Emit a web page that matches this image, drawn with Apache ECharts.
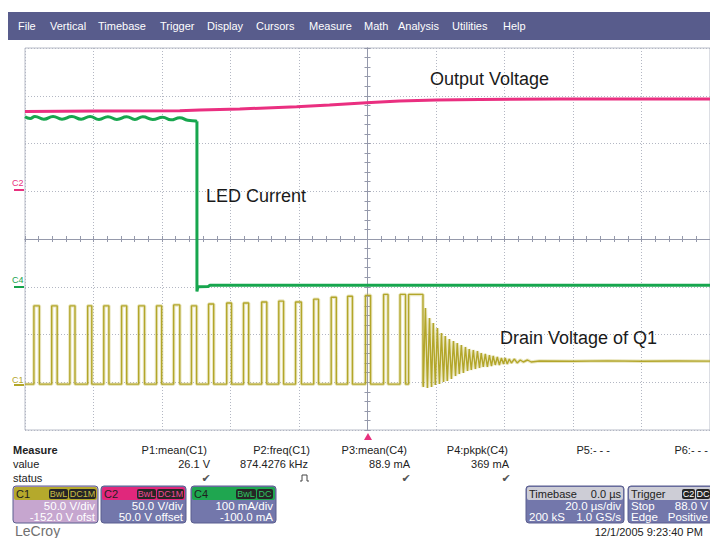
<!DOCTYPE html>
<html>
<head>
<meta charset="utf-8">
<title>LeCroy capture</title>
<script src="https://cdn.jsdelivr.net/npm/echarts@6/dist/echarts.min.js"></script>
<style>
  html, body { margin: 0; padding: 0; background: #fff; }
  #chart { width: 710px; height: 538px; }
</style>
</head>
<body>
<div id="chart"></div>
<script>
// time in µs (20 µs/div, trigger at 0)
// C1 drain voltage (V): pulse edges and pulse tops
const pulseRise = [-97.4, -92.2, -86.9, -81.7, -77.0, -71.8, -66.8, -61.6, -56.6, -51.4, -46.4, -41.1,
  -36.2, -30.9, -25.9, -21.0, -15.7, -10.6, -5.8, -0.6, 4.7, 9.5, 12.0];
const pulseFall = [-95.8, -90.6, -85.4, -80.5, -75.5, -70.3, -65.1, -60.1, -54.8, -49.9, -44.9, -39.7,
  -34.7, -29.4, -24.5, -19.3, -14.3, -9.1, -4.4, 0.9, 6.0, 11.1, 16.2];
const pulseHigh = [82, 82, 82, 82, 82, 82, 82, 82, 83, 82, 84, 85, 85, 86, 87, 86, 89, 91, 92, 93, 94, 94, 94];
// ringing after the last pulse
const ringTime = [16.3, 16.9, 17.5, 18.1, 18.7, 19.2, 19.8, 20.4, 21.0, 21.6, 22.2, 22.7, 23.3, 23.9, 24.5,
  25.1, 25.7, 26.2, 26.8, 27.4, 28.0, 28.6, 29.2, 29.7, 30.3, 30.9, 31.5, 32.1, 32.7, 33.2, 33.8, 34.4, 35.0,
  35.6, 36.2, 36.7, 37.3, 37.9, 38.5, 39.1, 39.7, 40.2, 40.8, 41.4, 42.0, 42.9, 43.7, 44.6, 45.5, 46.7, 47.8, 50.2];
const ringVolt = [-3.0, 79.7, -4.0, 69.3, -3.0, 64.0, -0.9, 58.8, 0.2, 53.6, 2.3, 50.4, 3.3, 47.3, 5.4,
  45.2, 8.5, 43.1, 10.6, 41.0, 11.7, 38.9, 13.8, 36.8, 14.8, 35.8, 15.9, 34.7, 16.9, 32.6, 18.0, 31.6, 18.0,
  30.5, 19.0, 29.5, 20.1, 28.4, 20.1, 27.4, 21.1, 27.4, 21.1, 26.3, 22.2, 26.3, 22.2, 25.3, 23.2, 25.3, 23.2, 24.3];
const tailTime = [60, 70, 80, 90, 100];
const tailVolt = [24.0, 24.4, 24.0, 24.3, 24.1];

// C2 output voltage (V)
const outTime = [-100, -78.7, -54.8, -49.0, -37.3, -20.7, -11.1, -0.3, 9.3, 20.1, 32.7, 56.0, 100];
const outVolt = [83.5, 84.0, 84.3, 85.1, 86.1, 88.5, 90.3, 92.7, 94.5, 95.5, 96.1, 96.6, 96.6];

// C4 LED current (mA): ripple part, then the step down
const ledTime = [-100, -98.5, -97.1, -94.5, -91.8, -89.2, -86.3, -83.6, -81.0, -78.4, -75.8, -73.2, -70.3,
  -67.9, -65.6, -62.7, -59.8, -57.4, -54.8, -52.5, -50.1, -49.8];
const ledCurrent = [356.0, 352.5, 356.5, 351.0, 356.5, 351.0, 356.5, 351.0, 356.5, 350.5, 356.0, 350.5, 356.0,
  350.5, 356.0, 350.5, 355.0, 349.5, 354.0, 348.5, 347.0, 346.5];
const ledOffTime = [-49.8, -49.8, -49.5, -46.5, -46.0, 100];
const ledOffCurrent = [346.5, -10, 0, 0.5, 3, 3];

// channel settings shown on the scope (per div, offset)
const c1Set = { perDiv: 50, offset: -152 };
const c2Set = { perDiv: 50, offset: 50 };
const c4Set = { perDiv: 100, offset: -100 };

const toDiv = (set, v) => (v + set.offset) / set.perDiv;

// build traces
const c1 = [[-100, toDiv(c1Set, 0)]];
pulseRise.forEach((t, i) => {
  const hi = toDiv(c1Set, pulseHigh[i]);
  const lo = toDiv(c1Set, 0);
  c1.push([t, lo], [t, hi], [pulseFall[i], hi], [pulseFall[i], lo]);
});
ringTime.forEach((t, i) => c1.push([t, toDiv(c1Set, ringVolt[i])]));
tailTime.forEach((t, i) => c1.push([t, toDiv(c1Set, tailVolt[i])]));

const c2 = outTime.map((t, i) => [t, toDiv(c2Set, outVolt[i])]);
const c4on = ledTime.map((t, i) => [t, toDiv(c4Set, ledCurrent[i])]);
const c4off = ledOffTime.map((t, i) => [t, toDiv(c4Set, ledOffCurrent[i])]);

const FONT = '"Liberation Sans", Arial, sans-serif';
const gridColor = '#b3b7c3';
const centerColor = '#9599ab';

function txt(x, y, s, o) {
  o = o || {};
  return {
    type: 'text', x: x, y: y, z: 100, silent: true,
    style: {
      text: s,
      fill: o.fill || '#222',
      fontSize: o.size || 11,
      fontWeight: o.weight || 'normal',
      fontFamily: o.family || FONT,
      align: o.align || 'left', textAlign: o.align || 'left',
      verticalAlign: 'middle', textVerticalAlign: 'middle'
    }
  };
}
function box(x, y, w, h, fill, r, stroke) {
  return {
    type: 'rect', z: 90, silent: true,
    shape: { x: x, y: y, width: w, height: h, r: r || 0 },
    style: { fill: fill, stroke: stroke || null, lineWidth: stroke ? 1 : 0 }
  };
}
function badge(x0, x1, s, color) {
  return [box(x0, 489, x1 - x0, 10, '#262626', 2), txt((x0 + x1) / 2, 494, s, { fill: color, size: 9, align: 'center' })];
}
function chanBox(x, w, head, body, label, badges, badgeColor, l1, l2) {
  let els = [
    box(x, 486, w, 37, body, 3, '#5b5f8f'),
    box(x + 1, 487, w - 2, 13, head, 2),
    txt(x + 3, 493.5, label, { fill: '#1e1e1e' }),
    txt(x + w - 3, 505.5, l1, { fill: '#fff', size: 11.5, align: 'right' }),
    txt(x + w - 3, 516.5, l2, { fill: '#fff', size: 11.5, align: 'right' })
  ];
  badges.forEach(b => { els = els.concat(badge(b[0], b[1], b[2], badgeColor)); });
  return els;
}

const menu = [['File', 18], ['Vertical', 50], ['Timebase', 98], ['Trigger', 160], ['Display', 207],
  ['Cursors', 256], ['Measure', 309], ['Math', 364], ['Analysis', 398], ['Utilities', 452], ['Help', 503]];

let graphics = [box(8, 12, 702, 28, '#585c8c')];
menu.forEach(m => graphics.push(txt(m[1], 26, m[0], { fill: '#fff' })));

// annotations
graphics.push(
  txt(430, 79, 'Output Voltage', { size: 18, fill: '#1a1a1a' }),
  txt(206, 196, 'LED Current', { size: 18, fill: '#1a1a1a' }),
  txt(500, 338, 'Drain Voltage of Q1', { size: 18, fill: '#1a1a1a' })
);

// channel markers on the left edge
[['C2', 183, 190, '#e8307e'], ['C4', 280, 287, '#16a34c'], ['C1', 380, 385, '#b3a62a']].forEach(c => {
  graphics.push(txt(12, c[1], c[0], { fill: c[3], size: 9 }));
  graphics.push({ type: 'line', z: 100, silent: true, shape: { x1: 14, y1: c[2], x2: 24, y2: c[2] }, style: { stroke: c[3], lineWidth: 2 } });
});
// trigger position marker
graphics.push({ type: 'polygon', z: 100, silent: true, shape: { points: [[364, 440], [372, 440], [368, 433]] }, style: { fill: '#e8307e' } });

// measure table
graphics.push(
  txt(13, 450, 'Measure', { weight: 'bold' }),
  txt(13, 464, 'value'),
  txt(13, 478, 'status')
);
[['P1:mean(C1)', 207, '26.1 V', 210], ['P2:freq(C1)', 310, '874.4276 kHz', 308], ['P3:mean(C4)', 407, '88.9 mA', 410],
  ['P4:pkpk(C4)', 508, '369 mA', 509], ['P5:- - -', 610, '', 0], ['P6:- - -', 708, '', 0]].forEach(p => {
  graphics.push(txt(p[1], 450, p[0], { align: 'right' }));
  if (p[2]) graphics.push(txt(p[3], 464, p[2], { align: 'right' }));
});
graphics.push(
  txt(206, 478, '✔', { fill: '#555', size: 11, align: 'center', family: '"DejaVu Sans", sans-serif' }),
  txt(406, 478, '✔', { fill: '#555', size: 11, align: 'center', family: '"DejaVu Sans", sans-serif' }),
  txt(506, 478, '✔', { fill: '#555', size: 11, align: 'center', family: '"DejaVu Sans", sans-serif' }),
  { type: 'polyline', z: 100, silent: true, shape: { points: [[300, 481], [302, 481], [302, 475], [307, 475], [307, 481], [309, 481]] },
    style: { stroke: '#444', lineWidth: 1, fill: null } }
);

// channel boxes
graphics = graphics.concat(
  chanBox(13, 85, '#b5a92c', '#c6a6cf', 'C1', [[49, 68, 'BwL'], [69, 96, 'DC1M']], '#c9bd45', '50.0 V/div', '-152.0 V ofst'),
  chanBox(101, 85, '#e0287c', '#7377ab', 'C2', [[137, 156, 'BwL'], [157, 184, 'DC1M']], '#f04a95', '50.0 V/div', '50.0 V offset'),
  chanBox(191, 85, '#1fa650', '#7377ab', 'C4', [[236, 256, 'BwL'], [257, 273, 'DC']], '#2fc462', '100 mA/div', '-100.0 mA')
);

// timebase and trigger boxes
graphics.push(
  box(526, 486, 98, 37, '#7377ab', 3, '#5b5f8f'),
  box(527, 487, 96, 13, '#cdcdd6', 2),
  txt(529, 493.5, 'Timebase'),
  txt(621, 493.5, '0.0 µs', { align: 'right' }),
  txt(621, 505.5, '20.0 µs/div', { fill: '#fff', size: 11.5, align: 'right' }),
  txt(529, 516.5, '200 kS', { fill: '#fff', size: 11.5 }),
  txt(621, 516.5, '1.0 GS/s', { fill: '#fff', size: 11.5, align: 'right' }),
  box(628, 486, 90, 37, '#7377ab', 3, '#5b5f8f'),
  box(629, 487, 88, 13, '#cdcdd6', 2),
  txt(631, 493.5, 'Trigger'),
  box(682, 489, 13, 10, '#262626', 2), txt(688.5, 494, 'C2', { fill: '#fff', size: 9, align: 'center' }),
  box(696, 489, 14, 10, '#262626', 2), txt(703, 494, 'DC', { fill: '#fff', size: 9, align: 'center' }),
  txt(631, 505.5, 'Stop', { fill: '#fff', size: 11.5 }),
  txt(708, 505.5, '88.0 V', { fill: '#fff', size: 11.5, align: 'right' }),
  txt(631, 516.5, 'Edge', { fill: '#fff', size: 11.5 }),
  txt(708, 516.5, 'Positive', { fill: '#fff', size: 11.5, align: 'right' }),
  txt(15, 531, 'LeCroy', { fill: '#707070', size: 14 }),
  txt(703, 532, '12/1/2005 9:23:40 PM', { align: 'right', size: 11 })
);

const centerAxis = (pos) => ({
  type: 'value', min: -100, max: 100, interval: 20, position: pos,
  axisLine: { show: true, onZero: true, onZeroAxisIndex: 0, lineStyle: { color: centerColor, width: 1 } },
  axisTick: { show: true, length: 3, lineStyle: { color: centerColor } },
  minorTick: { show: true, splitNumber: 5, length: 3, lineStyle: { color: centerColor } },
  axisLabel: { show: false },
  splitLine: { show: false }
});
const centerYAxis = (pos) => ({
  type: 'value', min: -4, max: 4, interval: 1, position: pos,
  axisLine: { show: true, onZero: true, onZeroAxisIndex: 0, lineStyle: { color: centerColor, width: 1 } },
  axisTick: { show: true, length: 3, lineStyle: { color: centerColor } },
  minorTick: { show: true, splitNumber: 5, length: 3, lineStyle: { color: centerColor } },
  axisLabel: { show: false },
  splitLine: { show: false }
});

const xMain = centerAxis('bottom');
xMain.splitLine = { show: true, lineStyle: { color: gridColor, type: [1, 2], width: 1 } };
const yMain = centerYAxis('left');
yMain.splitLine = { show: true, lineStyle: { color: gridColor, type: [1, 2], width: 1 } };

const chart = echarts.init(document.getElementById('chart'), null, { renderer: 'svg' });
chart.setOption({
  animation: false,
  backgroundColor: '#fff',
  grid: { left: 25, right: 0, top: 48, bottom: 108, show: true, borderColor: '#b8bcc8', borderWidth: 1, backgroundColor: 'transparent' },
  xAxis: [xMain, centerAxis('top')],
  yAxis: [yMain, centerYAxis('right')],
  graphic: graphics,
  series: [
    { name: 'C4', type: 'line', data: c4on, showSymbol: false, silent: true, smooth: 0.5,
      lineStyle: { color: '#17a64e', width: 3 }, z: 3 },
    { name: 'C4 off', type: 'line', data: c4off, showSymbol: false, silent: true,
      lineStyle: { color: '#17a64e', width: 3 }, z: 3 },
    { name: 'C2', type: 'line', data: c2, showSymbol: false, silent: true, lineStyle: { color: '#ea2f80', width: 3 }, z: 4 },
    { name: 'C1 glow', type: 'line', data: c1, showSymbol: false, silent: true, lineStyle: { color: 'rgba(196,186,80,0.35)', width: 3.5 }, z: 2 },
    { name: 'C1', type: 'line', data: c1, showSymbol: false, silent: true, lineStyle: { color: '#b3a62a', width: 1.4 }, z: 5 }
  ]
});
</script>
</body>
</html>
